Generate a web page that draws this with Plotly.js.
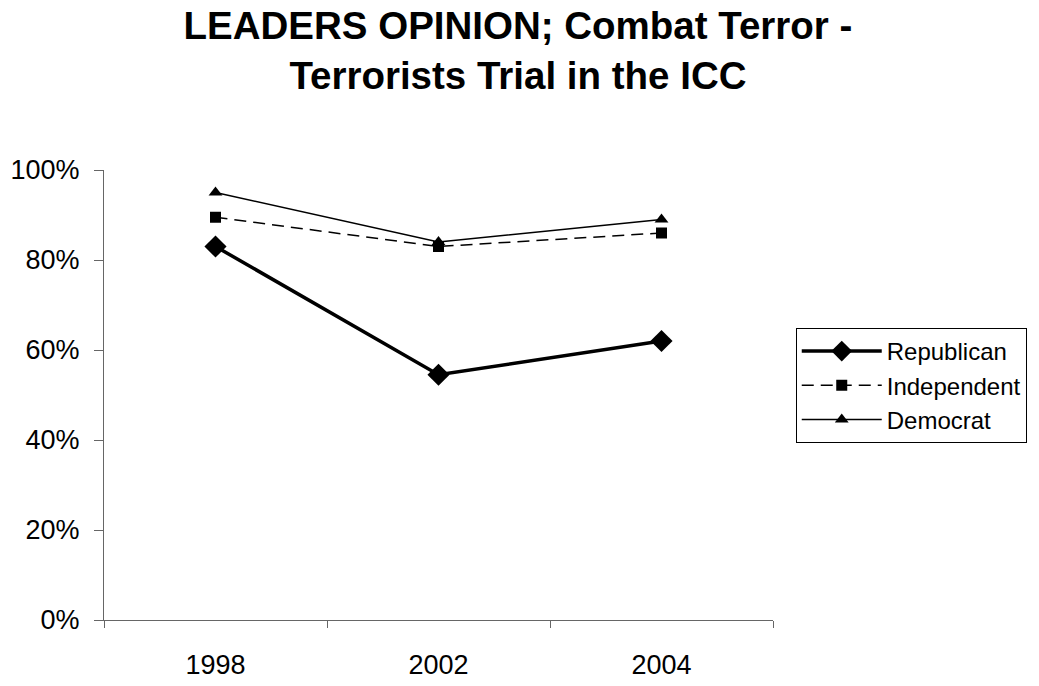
<!DOCTYPE html>
<html>
<head>
<meta charset="utf-8">
<script src="https://cdn.plot.ly/plotly-3.0.1.min.js"></script>
<style>html,body{margin:0;padding:0;background:#fff;}#chart{width:1039px;height:686px;}</style>
</head>
<body>
<div id="chart"></div>
<script>
const years = ["1998", "2002", "2004"];
const republican = [83, 54.5, 62];
const independent = [89.5, 83, 86];
const democrat = [95, 84, 89];
const yTicks = [0, 20, 40, 60, 80, 100];

const traces = [
  {x: years, y: republican, name: "Republican", type: "scatter", mode: "lines+markers",
   line: {color: "#000", width: 3.5}, marker: {symbol: "diamond", size: 17, color: "#000"}},
  {x: years, y: independent, name: "Independent", type: "scatter", mode: "lines+markers",
   line: {color: "#000", width: 1.5, dash: "12px,7px"}, marker: {symbol: "square", size: 11, color: "#000"}},
  {x: years, y: democrat, name: "Democrat", type: "scatter", mode: "lines+markers",
   line: {color: "#000", width: 1.5}, marker: {symbol: "triangle-up", size: 12, color: "#000"}}
];

const layout = {
  width: 1039, height: 686,
  paper_bgcolor: "#fff", plot_bgcolor: "#fff",
  margin: {l: 104, r: 266, t: 170, b: 66},
  font: {family: "Liberation Sans, Arial, sans-serif", color: "#000"},
  title: {text: "<b>LEADERS OPINION; Combat Terror -<br>Terrorists Trial in the ICC</b>",
          font: {size: 38.5, family: "Liberation Sans, Arial, sans-serif", color: "#000"},
          x: 0.4985, xanchor: "center", xref: "container", y: 0.943, yanchor: "middle", yref: "container"},
  xaxis: {type: "category", range: [-0.5, 2.5], tickson: "boundaries", ticks: "outside", ticklen: 7,
          tickcolor: "#666", showline: true, linecolor: "#666", linewidth: 1, showgrid: false, zeroline: false,
          tickfont: {size: 27}, ticklabelstandoff: 21, fixedrange: true},
  yaxis: {range: [0, 100], tickvals: yTicks, ticktext: yTicks.map(v => v + "%"), ticks: "outside", ticklen: 9,
          tickcolor: "#666", showline: true, linecolor: "#666", linewidth: 1, showgrid: false, zeroline: false,
          tickfont: {size: 27}, ticklabelstandoff: 9, fixedrange: true},
  showlegend: true,
  legend: {x: 1.034, xanchor: "left", y: 0.649, yanchor: "top", bordercolor: "#000", borderwidth: 1,
           font: {size: 24}, itemwidth: 80, tracegroupgap: 0, bgcolor: "#fff"}
};

Plotly.newPlot("chart", traces, layout, {staticPlot: true, displayModeBar: false});
</script>
</body>
</html>
